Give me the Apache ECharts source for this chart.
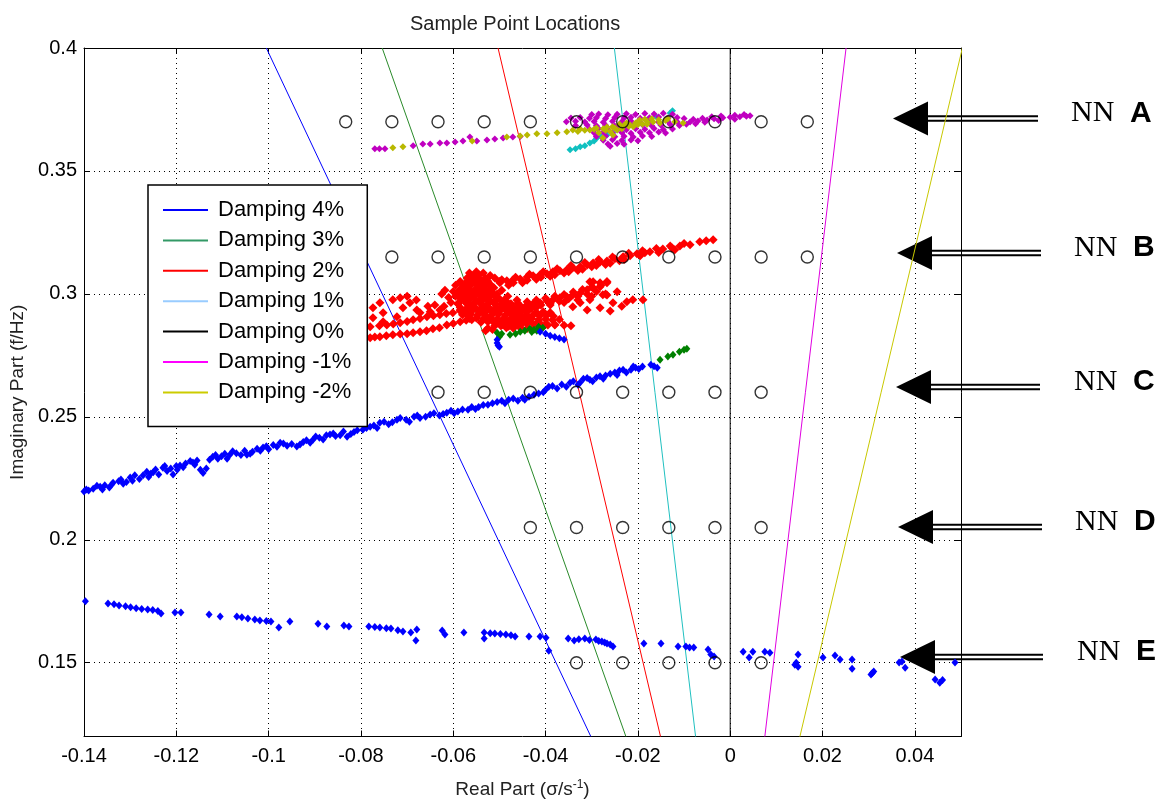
<!DOCTYPE html>
<html>
<head>
<meta charset="utf-8">
<script src="https://cdn.jsdelivr.net/npm/echarts@6/dist/echarts.min.js"></script>
<style>
  html, body { margin: 0; padding: 0; background: #fff; }
  #chart { width: 1163px; height: 804px; }
</style>
</head>
<body>
<div id="chart"></div>
<script>
// ---- data ----
const yTicks = [0.15, 0.2, 0.25, 0.3, 0.35, 0.4];

// damping lines, endpoints [real, imag]
const lineNames = ['Damping 4%', 'Damping 3%', 'Damping 2%', 'Damping 1%', 'Damping 0%', 'Damping -1%', 'Damping -2%'];
const damp4 = [[-0.1005, 0.4], [-0.0302, 0.12]];
const damp3 = [[-0.0754, 0.4], [-0.0226, 0.12]];
const damp2 = [[-0.0503, 0.4], [-0.0151, 0.12]];
const damp1 = [[-0.0251, 0.4], [-0.0075, 0.12]];
const damp0 = [[0, 0.4], [0, 0.12]];
const dampM1 = [[0.0251, 0.4], [0.0075, 0.12]];
const dampM2 = [[0.0503, 0.4], [0.0151, 0.12]];

// sample point grid (open circles)
const rowY = [0.37, 0.315, 0.26, 0.205, 0.15];
const rowA = [-0.0833, -0.0733, -0.0633, -0.0533, -0.0433, -0.0333, -0.0233, -0.0133, -0.0033, 0.0067, 0.0167];
const rowB = [-0.0733, -0.0633, -0.0533, -0.0433, -0.0333, -0.0233, -0.0133, -0.0033, 0.0067, 0.0167];
const rowC = [-0.0633, -0.0533, -0.0433, -0.0333, -0.0233, -0.0133, -0.0033, 0.0067];
const rowD = [-0.0433, -0.0333, -0.0233, -0.0133, -0.0033, 0.0067];
const rowE = [-0.0333, -0.0233, -0.0133, -0.0033, 0.0067];

// 4% points
const blue4 = [
  [-0.1400,0.2196],[-0.1390,0.2200],[-0.1380,0.2208],[-0.1365,0.2216],[-0.1355,0.2222],[-0.1345,0.2213],[-0.1337,0.2232],
  [-0.1325,0.2238],[-0.1315,0.2228],[-0.1300,0.2253],[-0.1290,0.2262],[-0.1280,0.2247],[-0.1264,0.2277],[-0.1255,0.2270],
  [-0.1245,0.2286],[-0.1229,0.2293],[-0.1220,0.2280],[-0.1207,0.2265],[-0.1200,0.2300],[-0.1192,0.2302],[-0.1180,0.2310],
  [-0.1164,0.2314],[-0.1155,0.2322],[-0.1142,0.2272],[-0.1135,0.2290],[-0.1121,0.2338],[-0.1110,0.2330],[-0.1095,0.2350],
  [-0.1084,0.2346],[-0.1070,0.2352],[-0.1047,0.2346],[-0.1035,0.2358],[-0.1012,0.2375],[-0.1000,0.2368],[-0.0990,0.2385],
  [-0.0975,0.2395],[-0.0960,0.2382],[-0.0939,0.2379],[-0.0925,0.2398],[-0.0904,0.2407],[-0.0890,0.2415],[-0.0867,0.2428],
  [-0.0855,0.2422],[-0.0830,0.2419],[-0.0815,0.2438],[-0.0796,0.2448],[-0.0780,0.2460],[-0.0759,0.2476],[-0.0740,0.2470],
  [-0.0722,0.2488],[-0.0702,0.2488],[-0.0685,0.2500],[-0.0672,0.2495],[-0.0650,0.2510],[-0.0630,0.2505],[-0.0614,0.2517],
  [-0.0590,0.2522],[-0.0568,0.2529],[-0.0545,0.2540],[-0.0525,0.2549],[-0.0505,0.2560],[-0.0480,0.2570],[-0.0460,0.2565],
  [-0.0436,0.2582],[-0.0415,0.2595],[-0.0393,0.2622],[-0.0375,0.2615],[-0.0347,0.2639],[-0.0330,0.2630],[-0.0318,0.2655],
  [-0.0304,0.2651],[-0.0290,0.2660],[-0.0270,0.2668],[-0.0250,0.2680],[-0.0232,0.2692],[-0.0215,0.2692],[-0.0205,0.2700],
  [-0.0190,0.2705],[-0.0172,0.2712],[-0.0165,0.2706],[-0.0158,0.2700],
  [-0.1395,0.2205],[-0.1372,0.2220],[-0.1360,0.2205],[-0.1340,0.2225],[-0.1320,0.2245],[-0.1308,0.2235],[-0.1295,0.2240],
  [-0.1272,0.2262],[-0.1260,0.2255],[-0.1250,0.2275],[-0.1238,0.2265],[-0.1225,0.2300],[-0.1212,0.2290],[-0.1198,0.2285],
  [-0.1185,0.2295],[-0.1170,0.2320],[-0.1160,0.2305],[-0.1148,0.2285],[-0.1128,0.2325],[-0.1115,0.2345],[-0.1102,0.2340],
  [-0.1090,0.2330],[-0.1078,0.2360],[-0.1060,0.2345],[-0.1052,0.2362],[-0.1040,0.2350],[-0.1025,0.2370],[-0.1018,0.2362],
  [-0.1005,0.2380],[-0.0982,0.2378],[-0.0968,0.2392],[-0.0950,0.2390],[-0.0932,0.2388],[-0.0918,0.2405],[-0.0910,0.2395],
  [-0.0898,0.2420],[-0.0882,0.2408],[-0.0875,0.2425],[-0.0860,0.2432],[-0.0845,0.2425],[-0.0838,0.2440],[-0.0822,0.2430],
  [-0.0808,0.2445],[-0.0788,0.2455],[-0.0772,0.2465],[-0.0765,0.2455],[-0.0750,0.2480],[-0.0732,0.2478],[-0.0715,0.2495],
  [-0.0695,0.2480],[-0.0678,0.2505],[-0.0660,0.2500],[-0.0642,0.2515],[-0.0622,0.2512],[-0.0605,0.2525],[-0.0598,0.2515],
  [-0.0580,0.2530],[-0.0560,0.2540],[-0.0552,0.2532],[-0.0535,0.2548],[-0.0515,0.2555],[-0.0495,0.2565],[-0.0488,0.2555],
  [-0.0470,0.2575],[-0.0450,0.2578],[-0.0445,0.2570],[-0.0425,0.2590],[-0.0405,0.2600],[-0.0400,0.2610],[-0.0385,0.2625],
  [-0.0365,0.2632],[-0.0355,0.2622],[-0.0340,0.2645],[-0.0325,0.2640],[-0.0310,0.2658],[-0.0298,0.2645],[-0.0282,0.2665],
  [-0.0275,0.2655],[-0.0260,0.2675],[-0.0245,0.2670],[-0.0240,0.2688],[-0.0225,0.2680],[-0.0210,0.2705],[-0.0198,0.2695],
  [-0.0505,0.2813],[-0.0505,0.2800],[-0.0503,0.2790],[-0.0500,0.2785],
  [-0.0412,0.2846],[-0.0400,0.2838],[-0.0390,0.2830],[-0.0380,0.2825],[-0.0370,0.2820],[-0.0360,0.2815],
  [-0.1397,0.1750],[-0.1348,0.1741],[-0.1335,0.1738],[-0.1324,0.1733],[-0.1310,0.1730],[-0.1299,0.1726],[-0.1287,0.1722],
  [-0.1275,0.1719],[-0.1262,0.1716],[-0.1251,0.1714],[-0.1240,0.1710],[-0.1233,0.1700],[-0.1203,0.1704],[-0.1190,0.1704],
  [-0.1129,0.1696],[-0.1105,0.1688],[-0.1069,0.1688],[-0.1058,0.1685],[-0.1045,0.1680],[-0.1030,0.1676],[-0.1019,0.1672],
  [-0.1005,0.1670],[-0.0995,0.1668],[-0.0978,0.1643],[-0.0954,0.1668],[-0.0893,0.1659],[-0.0874,0.1647],[-0.0837,0.1651],
  [-0.0826,0.1647],[-0.0783,0.1647],[-0.0770,0.1645],[-0.0759,0.1643],[-0.0745,0.1640],[-0.0735,0.1639],[-0.0720,0.1632],
  [-0.0709,0.1627],[-0.0692,0.1623],[-0.0679,0.1635],[-0.0681,0.1590],[-0.0624,0.1631],[-0.0618,0.1615],[-0.0577,0.1623],
  [-0.0533,0.1623],[-0.0533,0.1599],[-0.0520,0.1620],[-0.0510,0.1619],[-0.0498,0.1617],[-0.0486,0.1615],[-0.0475,0.1612],
  [-0.0466,0.1607],[-0.0436,0.1607],[-0.0412,0.1607],[-0.0399,0.1602],[-0.0393,0.1549],[-0.0351,0.1599],[-0.0338,0.1590],
  [-0.0328,0.1596],[-0.0315,0.1599],[-0.0305,0.1592],[-0.0291,0.1594],[-0.0285,0.1588],[-0.0278,0.1586],[-0.0272,0.1582],
  [-0.0267,0.1578],[-0.0260,0.1574],[-0.0254,0.1566],[-0.0187,0.1578],[-0.0150,0.1578],[-0.0113,0.1566],[-0.0096,0.1566],
  [-0.0088,0.1562],[-0.0079,0.1562],[-0.0048,0.1554],[-0.0042,0.1533],[-0.0035,0.1525],[0.0028,0.1545],[0.0041,0.1521],
  [0.0049,0.1545],[0.0075,0.1545],[0.0086,0.1541],[0.0147,0.1533],[0.0140,0.1492],[0.0147,0.1484],[0.0143,0.1500],
  [0.0201,0.1521],[0.0227,0.1529],[0.0238,0.1513],[0.0264,0.1513],[0.0264,0.1476],[0.0305,0.1452],[0.0311,0.1464],
  [0.0308,0.1458],[0.0366,0.1501],[0.0379,0.1480],[0.0372,0.1505],[0.0444,0.1432],[0.0454,0.1419],[0.0460,0.1430],
  [0.0487,0.1501]
];

// 3% points
const green3 = [
  [-0.0505,0.2842],[-0.0500,0.2826],[-0.0495,0.2838],[-0.0477,0.2834],[-0.0465,0.2838],[-0.0455,0.2846],[-0.0445,0.2850],
  [-0.0434,0.2858],[-0.0425,0.2854],[-0.0419,0.2850],[-0.0430,0.2845],[-0.0406,0.2862],[-0.0415,0.2866],
  [-0.0152,0.2732],[-0.0135,0.2745],[-0.0124,0.2753],[-0.0110,0.2765],[-0.0100,0.2773],[-0.0094,0.2777]
];

// 2% points
const red2 = [
  // upper strand
  [-0.0037,0.3220],[-0.0052,0.3216],[-0.0066,0.3212],[-0.0087,0.3200],[-0.0109,0.3195],[-0.0126,0.3187],[-0.0146,0.3183],
  [-0.0174,0.3171],[-0.0185,0.3167],[-0.0202,0.3163],[-0.0217,0.3155],[-0.0232,0.3151],[-0.0250,0.3143],[-0.0267,0.3134],
  [-0.0282,0.3130],[-0.0297,0.3126],[-0.0310,0.3118],[-0.0325,0.3110],[-0.0341,0.3106],[-0.0354,0.3098],[-0.0369,0.3094],
  [-0.0384,0.3090],[-0.0397,0.3082],[-0.0412,0.3078],[-0.0427,0.3074],[-0.0440,0.3069],[-0.0455,0.3061],[-0.0471,0.3057],
  [-0.0484,0.3053],[-0.0499,0.3045],[-0.0520,0.3033],
  [-0.0450,0.3045],[-0.0420,0.3060],[-0.0390,0.3072],[-0.0360,0.3085],[-0.0330,0.3095],[-0.0300,0.3110],[-0.0270,0.3120],
  [-0.0480,0.3035],[-0.0240,0.3135],
  [-0.0100,0.3205],[-0.0130,0.3195],[-0.0160,0.3185],[-0.0190,0.3175],[-0.0220,0.3165],[-0.0255,0.3150],[-0.0285,0.3140],
  [-0.0315,0.3128],[-0.0345,0.3115],[-0.0375,0.3102],[-0.0405,0.3090],[-0.0435,0.3080],[-0.0465,0.3068],[-0.0495,0.3058],
  [-0.0120,0.3180],[-0.0155,0.3168],[-0.0195,0.3155],[-0.0230,0.3140],[-0.0260,0.3125],[-0.0290,0.3115],[-0.0320,0.3100],
  [-0.0350,0.3090],[-0.0380,0.3078],[-0.0410,0.3068],[-0.0440,0.3055],[-0.0470,0.3045],
  // lower strand
  [-0.0267,0.3045],[-0.0282,0.3029],[-0.0297,0.3025],[-0.0310,0.3017],[-0.0325,0.3004],[-0.0341,0.2996],[-0.0354,0.2988],
  [-0.0369,0.2984],[-0.0384,0.2976],[-0.0397,0.2972],[-0.0412,0.2964],[-0.0427,0.2960],[-0.0440,0.2956],[-0.0455,0.2952],
  [-0.0471,0.2948],[-0.0484,0.2940],[-0.0499,0.2935],
  [-0.0450,0.2935],[-0.0420,0.2945],[-0.0390,0.2955],[-0.0360,0.2965],[-0.0330,0.2975],[-0.0300,0.2990],[-0.0270,0.3000],
  [-0.0280,0.3035],[-0.0300,0.3028],[-0.0320,0.3018],[-0.0340,0.3008],[-0.0360,0.2998],[-0.0380,0.2990],[-0.0400,0.2982],
  [-0.0420,0.2975],[-0.0440,0.2968],[-0.0460,0.2962],[-0.0480,0.2955],
  [-0.0290,0.3010],[-0.0310,0.3000],[-0.0330,0.2990],[-0.0350,0.2980],[-0.0370,0.2970],[-0.0390,0.2962],[-0.0410,0.2955],
  [-0.0430,0.2948],[-0.0470,0.2935],
  // scattered right of the lower strand
  [-0.0276,0.2997],[-0.0254,0.2964],[-0.0245,0.3009],[-0.0224,0.2968],[-0.0211,0.2976],[-0.0189,0.2976],[-0.0282,0.2944],
  [-0.0310,0.2935],[-0.0341,0.2948],[-0.0304,0.2976],[-0.0325,0.2964],[-0.0260,0.2930],[-0.0235,0.2950],[-0.0297,0.3049],
  [-0.0267,0.3050],[-0.0304,0.3049],[-0.0282,0.3045],[-0.0267,0.2996],
  [-0.0477,0.2887],[-0.0460,0.2885],[-0.0440,0.2880],[-0.0420,0.2878],[-0.0400,0.2876],[-0.0380,0.2874],[-0.0360,0.2872],
  [-0.0345,0.2870],
  // central blob
  [-0.0580,0.3000],[-0.0575,0.2980],[-0.0570,0.3020],[-0.0565,0.2960],[-0.0560,0.3040],[-0.0558,0.2995],[-0.0555,0.2940],
  [-0.0550,0.3010],[-0.0548,0.3050],[-0.0545,0.2970],[-0.0542,0.2925],[-0.0540,0.3030],[-0.0537,0.2990],[-0.0535,0.2950],
  [-0.0532,0.3060],[-0.0530,0.3015],[-0.0528,0.2910],[-0.0525,0.2975],[-0.0522,0.3040],[-0.0520,0.2935],[-0.0518,0.2995],
  [-0.0515,0.2895],[-0.0512,0.3025],[-0.0510,0.2960],[-0.0508,0.2880],[-0.0505,0.3000],[-0.0502,0.2920],[-0.0500,0.2980],
  [-0.0497,0.2870],[-0.0495,0.3015],[-0.0492,0.2945],[-0.0490,0.2900],[-0.0487,0.2965],[-0.0485,0.2862],[-0.0482,0.2990],
  [-0.0480,0.2925],[-0.0477,0.2885],[-0.0475,0.2960],[-0.0472,0.2905],[-0.0470,0.2868],[-0.0467,0.2940],[-0.0465,0.2895],
  [-0.0462,0.2975],[-0.0460,0.2920],[-0.0457,0.2875],[-0.0455,0.2950],[-0.0452,0.2900],[-0.0450,0.2880],[-0.0445,0.2935],
  [-0.0440,0.2910],[-0.0435,0.2890],[-0.0530,0.2850],[-0.0525,0.2860],[-0.0515,0.2855],[-0.0560,0.2895],[-0.0570,0.2915],
  [-0.0585,0.2935],[-0.0590,0.2960],[-0.0595,0.2990],[-0.0600,0.3010],[-0.0595,0.3035],[-0.0585,0.3050],[-0.0570,0.3065],
  [-0.0555,0.3072],[-0.0545,0.3078],[-0.0535,0.3085],[-0.0520,0.3075],[-0.0510,0.3065],[-0.0500,0.3050],[-0.0565,0.3085],
  [-0.0550,0.3090],
  [-0.0510,0.2870],[-0.0495,0.2872],[-0.0480,0.2868],[-0.0465,0.2871],
  [-0.0540,0.2885],[-0.0525,0.2887],[-0.0512,0.2884],[-0.0498,0.2886],[-0.0483,0.2883],[-0.0468,0.2887],[-0.0453,0.2884],[-0.0438,0.2886],
  [-0.0565,0.2900],[-0.0550,0.2902],[-0.0535,0.2899],[-0.0520,0.2901],[-0.0505,0.2898],[-0.0490,0.2902],[-0.0475,0.2899],
  [-0.0460,0.2901],[-0.0445,0.2898],[-0.0430,0.2900],
  [-0.0580,0.2915],[-0.0562,0.2917],[-0.0547,0.2914],[-0.0532,0.2916],[-0.0517,0.2913],[-0.0502,0.2917],[-0.0487,0.2914],
  [-0.0472,0.2916],[-0.0457,0.2913],[-0.0442,0.2915],[-0.0428,0.2912],
  [-0.0575,0.2930],[-0.0560,0.2932],[-0.0545,0.2929],[-0.0528,0.2931],[-0.0513,0.2928],[-0.0498,0.2932],[-0.0483,0.2929],
  [-0.0468,0.2931],[-0.0453,0.2928],[-0.0438,0.2930],
  [-0.0585,0.2945],[-0.0568,0.2947],[-0.0552,0.2944],[-0.0537,0.2946],[-0.0522,0.2943],[-0.0507,0.2947],[-0.0490,0.2944],
  [-0.0475,0.2946],[-0.0460,0.2943],
  [-0.0590,0.2960],[-0.0572,0.2962],[-0.0557,0.2959],[-0.0541,0.2961],[-0.0526,0.2958],[-0.0511,0.2962],[-0.0496,0.2959],
  [-0.0480,0.2961],
  [-0.0583,0.2975],[-0.0566,0.2977],[-0.0550,0.2974],[-0.0535,0.2976],[-0.0520,0.2973],[-0.0505,0.2977],[-0.0490,0.2974],
  [-0.0588,0.2990],[-0.0572,0.2992],[-0.0556,0.2989],[-0.0541,0.2991],[-0.0526,0.2988],[-0.0511,0.2992],
  [-0.0592,0.3005],[-0.0576,0.3007],[-0.0561,0.3004],[-0.0546,0.3006],[-0.0531,0.3003],[-0.0516,0.3007],
  [-0.0584,0.3020],[-0.0567,0.3022],[-0.0552,0.3019],[-0.0537,0.3021],[-0.0522,0.3018],
  [-0.0578,0.3035],[-0.0562,0.3037],[-0.0547,0.3034],[-0.0532,0.3036],[-0.0517,0.3033],
  [-0.0570,0.3050],[-0.0555,0.3052],[-0.0540,0.3049],[-0.0525,0.3051],
  [-0.0560,0.3065],[-0.0545,0.3067],[-0.0530,0.3064],
  [-0.0470,0.2860],[-0.0455,0.2862],[-0.0440,0.2859],[-0.0425,0.2861],[-0.0410,0.2858],
  [-0.0425,0.2875],[-0.0410,0.2877],[-0.0395,0.2874],[-0.0380,0.2876],
  [-0.0415,0.2895],[-0.0400,0.2897],[-0.0385,0.2894],[-0.0370,0.2896],
  [-0.0413,0.2910],[-0.0398,0.2912],[-0.0383,0.2909],
  [-0.0420,0.2925],[-0.0405,0.2927],[-0.0390,0.2924],
  [-0.0445,0.2940],[-0.0430,0.2942],
  // left tails
  [-0.0780,0.2822],[-0.0770,0.2825],[-0.0759,0.2826],[-0.0745,0.2830],[-0.0731,0.2834],[-0.0715,0.2837],[-0.0700,0.2838],
  [-0.0687,0.2842],[-0.0672,0.2846],[-0.0658,0.2850],[-0.0644,0.2858],[-0.0630,0.2862],[-0.0614,0.2874],[-0.0600,0.2880],
  [-0.0585,0.2887],[-0.0572,0.2893],
  [-0.0780,0.2866],[-0.0760,0.2870],[-0.0744,0.2874],[-0.0730,0.2878],[-0.0715,0.2883],[-0.0700,0.2888],[-0.0687,0.2895],
  [-0.0672,0.2900],[-0.0657,0.2907],[-0.0643,0.2911],[-0.0629,0.2915],[-0.0615,0.2920],[-0.0601,0.2923],[-0.0585,0.2930],
  [-0.0570,0.2935],
  [-0.0774,0.2944],[-0.0759,0.2964],[-0.0752,0.2923],[-0.0731,0.2976],[-0.0715,0.2984],[-0.0709,0.2944],[-0.0694,0.2964],
  [-0.0679,0.2935],[-0.0672,0.2923],[-0.0774,0.2903],[-0.0752,0.2887],[-0.0722,0.2907],[-0.0650,0.2927],[-0.0629,0.2935],
  [-0.0700,0.2990],[-0.0680,0.2975],[-0.0655,0.2950],[-0.0640,0.2955],[-0.0620,0.2950],[-0.0605,0.2965],[-0.0610,0.2985],
  [-0.0625,0.3000],[-0.0618,0.3015]
];

// 1% points
const cyan1 = [
  [-0.0347,0.3586],[-0.0335,0.3590],[-0.0325,0.3598],[-0.0315,0.3602],[-0.0304,0.3614],[-0.0295,0.3622],[-0.0289,0.3634],
  [-0.0280,0.3640],[-0.0267,0.3646],[-0.0255,0.3655],[-0.0245,0.3667],[-0.0230,0.3680],[-0.0217,0.3687],[-0.0200,0.3700],
  [-0.0180,0.3707],[-0.0160,0.3720],[-0.0130,0.3736],[-0.0125,0.3745]
];

// -1% points
const magentaM1 = [
  [-0.0770,0.3590],[-0.0760,0.3590],[-0.0748,0.3590],[-0.0687,0.3602],[-0.0666,0.3610],[-0.0650,0.3610],[-0.0629,0.3614],
  [-0.0614,0.3614],[-0.0596,0.3618],[-0.0579,0.3622],[-0.0564,0.3638],[-0.0549,0.3622],[-0.0527,0.3626],[-0.0510,0.3630],
  [-0.0492,0.3634],[-0.0471,0.3638],[-0.0455,0.3640],
  [-0.0300,0.3730],[-0.0285,0.3732],[-0.0265,0.3729],[-0.0245,0.3731],[-0.0225,0.3733],[-0.0205,0.3730],[-0.0185,0.3734],
  [-0.0165,0.3732],[-0.0145,0.3735],[-0.0125,0.3731],
  [-0.0345,0.3715],[-0.0325,0.3717],[-0.0305,0.3714],[-0.0290,0.3716],[-0.0270,0.3713],[-0.0250,0.3717],[-0.0230,0.3715],
  [-0.0215,0.3718],[-0.0195,0.3714],[-0.0175,0.3716],[-0.0155,0.3719],[-0.0135,0.3715],[-0.0115,0.3717],[-0.0100,0.3713],
  [-0.0355,0.3700],[-0.0335,0.3702],[-0.0315,0.3699],[-0.0295,0.3701],[-0.0275,0.3698],[-0.0255,0.3702],[-0.0235,0.3700],
  [-0.0215,0.3703],[-0.0195,0.3699],[-0.0175,0.3701],[-0.0155,0.3698],[-0.0135,0.3702],[-0.0115,0.3700],
  [-0.0335,0.3685],[-0.0310,0.3687],[-0.0290,0.3684],[-0.0270,0.3686],[-0.0250,0.3683],[-0.0230,0.3687],[-0.0210,0.3685],
  [-0.0190,0.3688],[-0.0170,0.3684],[-0.0150,0.3686],[-0.0130,0.3689],[-0.0110,0.3685],
  [-0.0305,0.3670],[-0.0285,0.3672],[-0.0265,0.3669],[-0.0245,0.3671],[-0.0225,0.3668],[-0.0205,0.3672],[-0.0185,0.3670],
  [-0.0165,0.3673],[-0.0145,0.3669],[-0.0125,0.3671],
  [-0.0295,0.3655],[-0.0275,0.3657],[-0.0255,0.3654],[-0.0235,0.3656],[-0.0215,0.3653],[-0.0195,0.3657],[-0.0175,0.3655],
  [-0.0155,0.3658],[-0.0140,0.3654],
  [-0.0290,0.3640],[-0.0270,0.3642],[-0.0250,0.3639],[-0.0230,0.3641],[-0.0210,0.3638],[-0.0190,0.3642],[-0.0170,0.3640],
  [-0.0275,0.3625],[-0.0255,0.3627],[-0.0235,0.3624],[-0.0215,0.3626],[-0.0200,0.3623],
  [-0.0265,0.3610],[-0.0245,0.3612],[-0.0230,0.3609],[-0.0260,0.3600],
  [-0.0095,0.3690],[-0.0087,0.3699],[-0.0070,0.3703],[-0.0050,0.3707],[-0.0035,0.3712],[-0.0016,0.3716],[0.0000,0.3718],
  [0.0021,0.3720],[0.0035,0.3722],[0.0043,0.3724],
  [-0.0080,0.3710],[-0.0060,0.3714],[-0.0040,0.3720],[-0.0020,0.3723],[0.0010,0.3727],[0.0030,0.3730],[-0.0075,0.3692],
  [-0.0055,0.3698],[-0.0025,0.3705],[0.0010,0.3710]
];

// -2% points
const oliveM2 = [
  [-0.0731,0.3594],[-0.0709,0.3598],[-0.0559,0.3622],[-0.0484,0.3638],[-0.0455,0.3642],[-0.0440,0.3646],[-0.0419,0.3651],
  [-0.0397,0.3651],[-0.0375,0.3655],[-0.0354,0.3659],[-0.0341,0.3667],[-0.0325,0.3671],[-0.0304,0.3667],[-0.0290,0.3675],
  [-0.0267,0.3679],[-0.0245,0.3667],[-0.0230,0.3685],[-0.0217,0.3687],[-0.0205,0.3695],[-0.0196,0.3707],[-0.0180,0.3700],
  [-0.0167,0.3699],[-0.0152,0.3695],[-0.0140,0.3705],[-0.0102,0.3695],[-0.0254,0.3646],[-0.0276,0.3634],[-0.0260,0.3660],
  [-0.0235,0.3672],[-0.0210,0.3680],[-0.0190,0.3690],[-0.0285,0.3655],
  [-0.0330,0.3660],[-0.0315,0.3665],[-0.0295,0.3670],[-0.0275,0.3672],[-0.0255,0.3680],[-0.0240,0.3690],[-0.0225,0.3695],
  [-0.0200,0.3700],[-0.0185,0.3710],[-0.0170,0.3712],[-0.0155,0.3708],[-0.0135,0.3712],[-0.0120,0.3700],[-0.0270,0.3665],
  [-0.0250,0.3675],[-0.0220,0.3682],[-0.0200,0.3688],[-0.0180,0.3690]
];

// ---- chart ----
const chart = echarts.init(document.getElementById('chart'));

const sansFont = "'Liberation Sans', Arial, sans-serif";
const lineColors = ['#0000ff', '#2a8a2a', '#ff0000', '#20c0c0', '#000000', '#e000e0', '#c8c800'];
const legendColors = ['#0000ff', '#339966', '#ff0000', '#99ccff', '#000000', '#ff00ff', '#cccc00'];
const lineData = [damp4, damp3, damp2, damp1, damp0, dampM1, dampM2];

const circleData = [];
[rowA, rowB, rowC, rowD, rowE].forEach((xs, i) => {
  xs.forEach(x => circleData.push([x, rowY[i]]));
});

function dotSeries(data, color, size) {
  return {
    type: 'scatter',
    data: data,
    symbol: 'diamond',
    symbolSize: size,
    itemStyle: { color: color, opacity: 1 },
    silent: true,
    z: 3
  };
}

const series = lineNames.map((name, i) => ({
  name: name,
  type: 'line',
  data: lineData[i],
  symbol: 'none',
  lineStyle: { color: lineColors[i], width: 1 },
  itemStyle: { color: lineColors[i] },
  silent: true,
  z: 2
}));

series.push(dotSeries(red2, '#ff0000', [9, 9]));
series.push(dotSeries(green3, '#008000', [7, 8]));
series.push(dotSeries(blue4, '#0000ff', [7, 8]));
series.push(dotSeries(cyan1, '#10c0c0', [7, 7]));
series.push(dotSeries(magentaM1, '#c000c0', [7, 7]));
series.push(dotSeries(oliveM2, '#b8b800', [7, 7]));
series.push({
  type: 'scatter',
  data: circleData,
  symbol: 'circle',
  symbolSize: 12,
  itemStyle: { color: 'rgba(0,0,0,0)', borderColor: '#000', borderWidth: 1.4 },
  silent: true,
  z: 4
});

const axisLineStyle = { show: true, onZero: false, lineStyle: { color: '#000', width: 1 } };
const gridDots = { show: true, lineStyle: { color: '#000', width: 1, type: [1, 4] } };

// arrows on the right: [label, tipX, y, endX, nnX]
const arrows = [
  ['A', 893, 118.5, 1038, 1071],
  ['B', 897, 253, 1041, 1074],
  ['C', 896, 387, 1040, 1074],
  ['D', 898, 527, 1042, 1075],
  ['E', 900, 657, 1043, 1077]
];
const graphics = [];
arrows.forEach(([label, tip, y, end, nnX]) => {
  const base = tip + 35;
  graphics.push({ type: 'polygon', shape: { points: [[tip, y], [base, y - 17], [base, y + 17]] }, style: { fill: '#000' } });
  graphics.push({ type: 'line', shape: { x1: base - 2, y1: y - 2.3, x2: end, y2: y - 2.3 }, style: { stroke: '#000', lineWidth: 2 } });
  graphics.push({ type: 'line', shape: { x1: base - 2, y1: y + 2.3, x2: end, y2: y + 2.3 }, style: { stroke: '#000', lineWidth: 2 } });
  graphics.push({ type: 'text', x: nnX, y: y - 5, style: { text: 'NN', font: "30px 'Liberation Serif', 'Times New Roman', serif", fill: '#000', verticalAlign: 'middle' } });
  graphics.push({ type: 'text', x: nnX + 59, y: y - 5, style: { text: label, font: "bold 30px 'Liberation Sans', Arial, sans-serif", fill: '#000', verticalAlign: 'middle' } });
});

chart.setOption({
  animation: false,
  backgroundColor: '#fff',
  title: {
    text: 'Sample Point Locations',
    left: 410,
    top: 14,
    padding: 0,
    textStyle: { fontSize: 20, fontWeight: 'normal', color: '#222', fontFamily: sansFont }
  },
  grid: { left: 84, right: 202, top: 48, bottom: 67, containLabel: false },
  legend: {
    orient: 'vertical',
    left: 148,
    top: 185,
    padding: [14, 16, 23, 15],
    itemWidth: 45,
    itemHeight: 12,
    itemGap: 8.4,
    backgroundColor: '#fff',
    borderColor: '#000',
    borderWidth: 1.5,
    borderRadius: 0,
    selectedMode: false,
    textStyle: { fontSize: 22, color: '#000', fontFamily: sansFont, padding: [0, 0, 0, 5] },
    data: lineNames.map((name, i) => ({
      name: name,
      icon: 'path://M0,0 L45,0 L45,2 L0,2 Z',
      itemStyle: { color: legendColors[i] }
    }))
  },
  xAxis: [
    {
      type: 'value',
      min: -0.14,
      max: 0.05,
      interval: 0.02,
      position: 'bottom',
      axisLine: axisLineStyle,
      axisTick: { show: true, inside: true, length: 6, lineStyle: { color: '#000' } },
      axisLabel: { color: '#000', fontSize: 20, fontFamily: sansFont, margin: 10, showMaxLabel: false },
      splitLine: gridDots,
      name: 'Real Part (σ/s{sup|-1})',
      nameLocation: 'middle',
      nameGap: 42,
      nameTextStyle: {
        fontSize: 19, color: '#222', fontFamily: sansFont,
        rich: { sup: { fontSize: 12, color: '#222', fontFamily: sansFont, padding: [0, 0, 10, 0] } }
      }
    },
    {
      type: 'value',
      min: -0.14,
      max: 0.05,
      interval: 0.02,
      position: 'top',
      axisLine: axisLineStyle,
      axisTick: { show: true, inside: true, length: 6, lineStyle: { color: '#000' } },
      axisLabel: { show: false },
      splitLine: { show: false }
    }
  ],
  yAxis: [
    {
      type: 'value',
      min: 0.12,
      max: 0.4,
      position: 'left',
      axisLine: axisLineStyle,
      axisTick: { show: true, inside: true, length: 6, lineStyle: { color: '#000' }, customValues: yTicks },
      axisLabel: { color: '#000', fontSize: 20, fontFamily: sansFont, margin: 7, customValues: yTicks },
      splitLine: gridDots,
      name: 'Imaginary Part (f/Hz)',
      nameLocation: 'middle',
      nameGap: 56,
      nameTextStyle: { fontSize: 19, color: '#222', fontFamily: sansFont }
    },
    {
      type: 'value',
      min: 0.12,
      max: 0.4,
      position: 'right',
      axisLine: axisLineStyle,
      axisTick: { show: true, inside: true, length: 6, lineStyle: { color: '#000' }, customValues: yTicks },
      axisLabel: { show: false },
      splitLine: { show: false }
    }
  ],
  series: series,
  graphic: graphics
});
</script>
</body>
</html>
